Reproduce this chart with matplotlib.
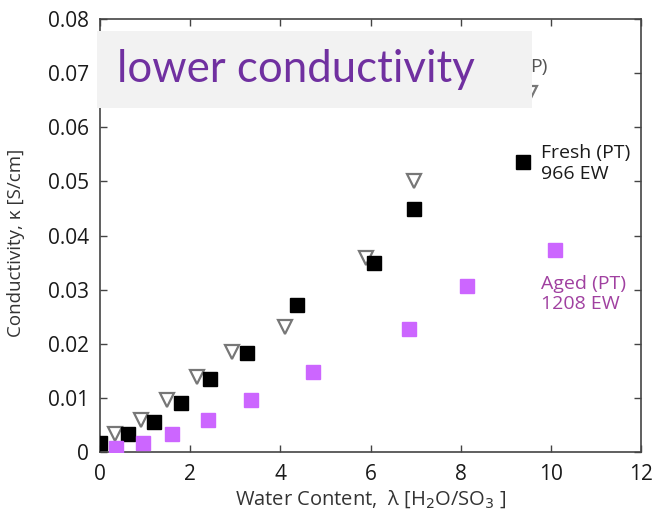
import matplotlib
matplotlib.use("Agg")
import matplotlib.pyplot as plt
from matplotlib.patches import Rectangle

# Data
fresh_x = [0.0, 0.62, 1.19, 1.79, 2.43, 3.25, 4.38, 6.08, 6.96, 9.39]
fresh_y = [0.0016, 0.0033, 0.0056, 0.0090, 0.0134, 0.0182, 0.0271, 0.0349, 0.0449, 0.0535]

tri_x = [0.33, 0.92, 1.49, 2.16, 2.92, 4.10, 5.90, 6.96, 9.54]
tri_y = [0.0033, 0.0060, 0.0096, 0.0138, 0.0185, 0.0231, 0.0358, 0.0500, 0.0663]

aged_x = [0.35, 0.96, 1.60, 2.39, 3.36, 4.72, 6.85, 8.15, 10.09]
aged_y = [0.0008, 0.0017, 0.0034, 0.0059, 0.0096, 0.0148, 0.0228, 0.0306, 0.0373]

xticks = [0, 2, 4, 6, 8, 10, 12]
yticks = [0, 0.01, 0.02, 0.03, 0.04, 0.05, 0.06, 0.07, 0.08]
ytick_labels = ["0", "0.01", "0.02", "0.03", "0.04", "0.05", "0.06", "0.07", "0.08"]

plt.rcParams['font.family'] = ['Open Sans', 'DejaVu Sans']

fig = plt.figure(figsize=(6.58, 5.18), dpi=100)
ax = fig.add_axes([100/658, 1-452/518, 541/658, 433/518])

ax.plot(tri_x, tri_y, linestyle='none', marker='v', markersize=10,
        markerfacecolor='white', markeredgecolor='#777777', markeredgewidth=1.6, zorder=3)
ax.plot(fresh_x, fresh_y, linestyle='none', marker='s', markersize=9.5,
        markerfacecolor='black', markeredgecolor='black', zorder=4)
ax.plot(aged_x, aged_y, linestyle='none', marker='s', markersize=9.5,
        markerfacecolor='#CC66FF', markeredgecolor='#CC66FF', zorder=4)

ax.set_xlim(0, 12)
ax.set_ylim(0, 0.08)
ax.set_xticks(xticks)
ax.set_xticklabels([str(t) for t in xticks])
ax.set_yticks(yticks)
ax.set_yticklabels(ytick_labels)
ax.tick_params(direction='in', length=5, width=1, top=True, right=True,
               labelsize=15, colors='#444444', labelcolor='#1a1a1a')
ax.tick_params(axis='y', pad=8)
ax.tick_params(axis='x', pad=9)
for s in ax.spines.values():
    s.set_color('#444444')
    s.set_linewidth(1.2)

ax.set_xlabel(r"Water Content,  λ [H$_2$O/SO$_3$ ]", fontsize=14.5, color='#333333', labelpad=2)
ax.set_ylabel("Conductivity, κ [S/cm]", fontsize=13.5, color='#333333',
              ha='center', va='center', rotation_mode='default')
ax.yaxis.set_label_coords(-0.155, 0.483)

ax.text(9.78, 0.0533, "Fresh (PT)\n966 EW", fontsize=14, color='#1a1a1a',
        va='center', ha='left', linespacing=1.2)
ax.text(9.78, 0.0292, "Aged (PT)\n1208 EW", fontsize=14, color='#A040A0',
        va='center', ha='left', linespacing=1.2)
ax.text(9.55, 0.0711, "P)", fontsize=14, color='#555555', va='center', ha='left')

# Overlay box
fig.patches.append(Rectangle((97/658, 1-108/518), (532-97)/658, (108-31)/518,
                             transform=fig.transFigure, facecolor='#F2F2F2',
                             edgecolor='none', zorder=10))
fig.text(117/658, 1-70/518, "lower conductivity", fontsize=31.5, color='#7030A0',
         family=['Lato', 'DejaVu Sans'], va='center', ha='left', zorder=11)

fig.savefig("out.png", dpi=100)
